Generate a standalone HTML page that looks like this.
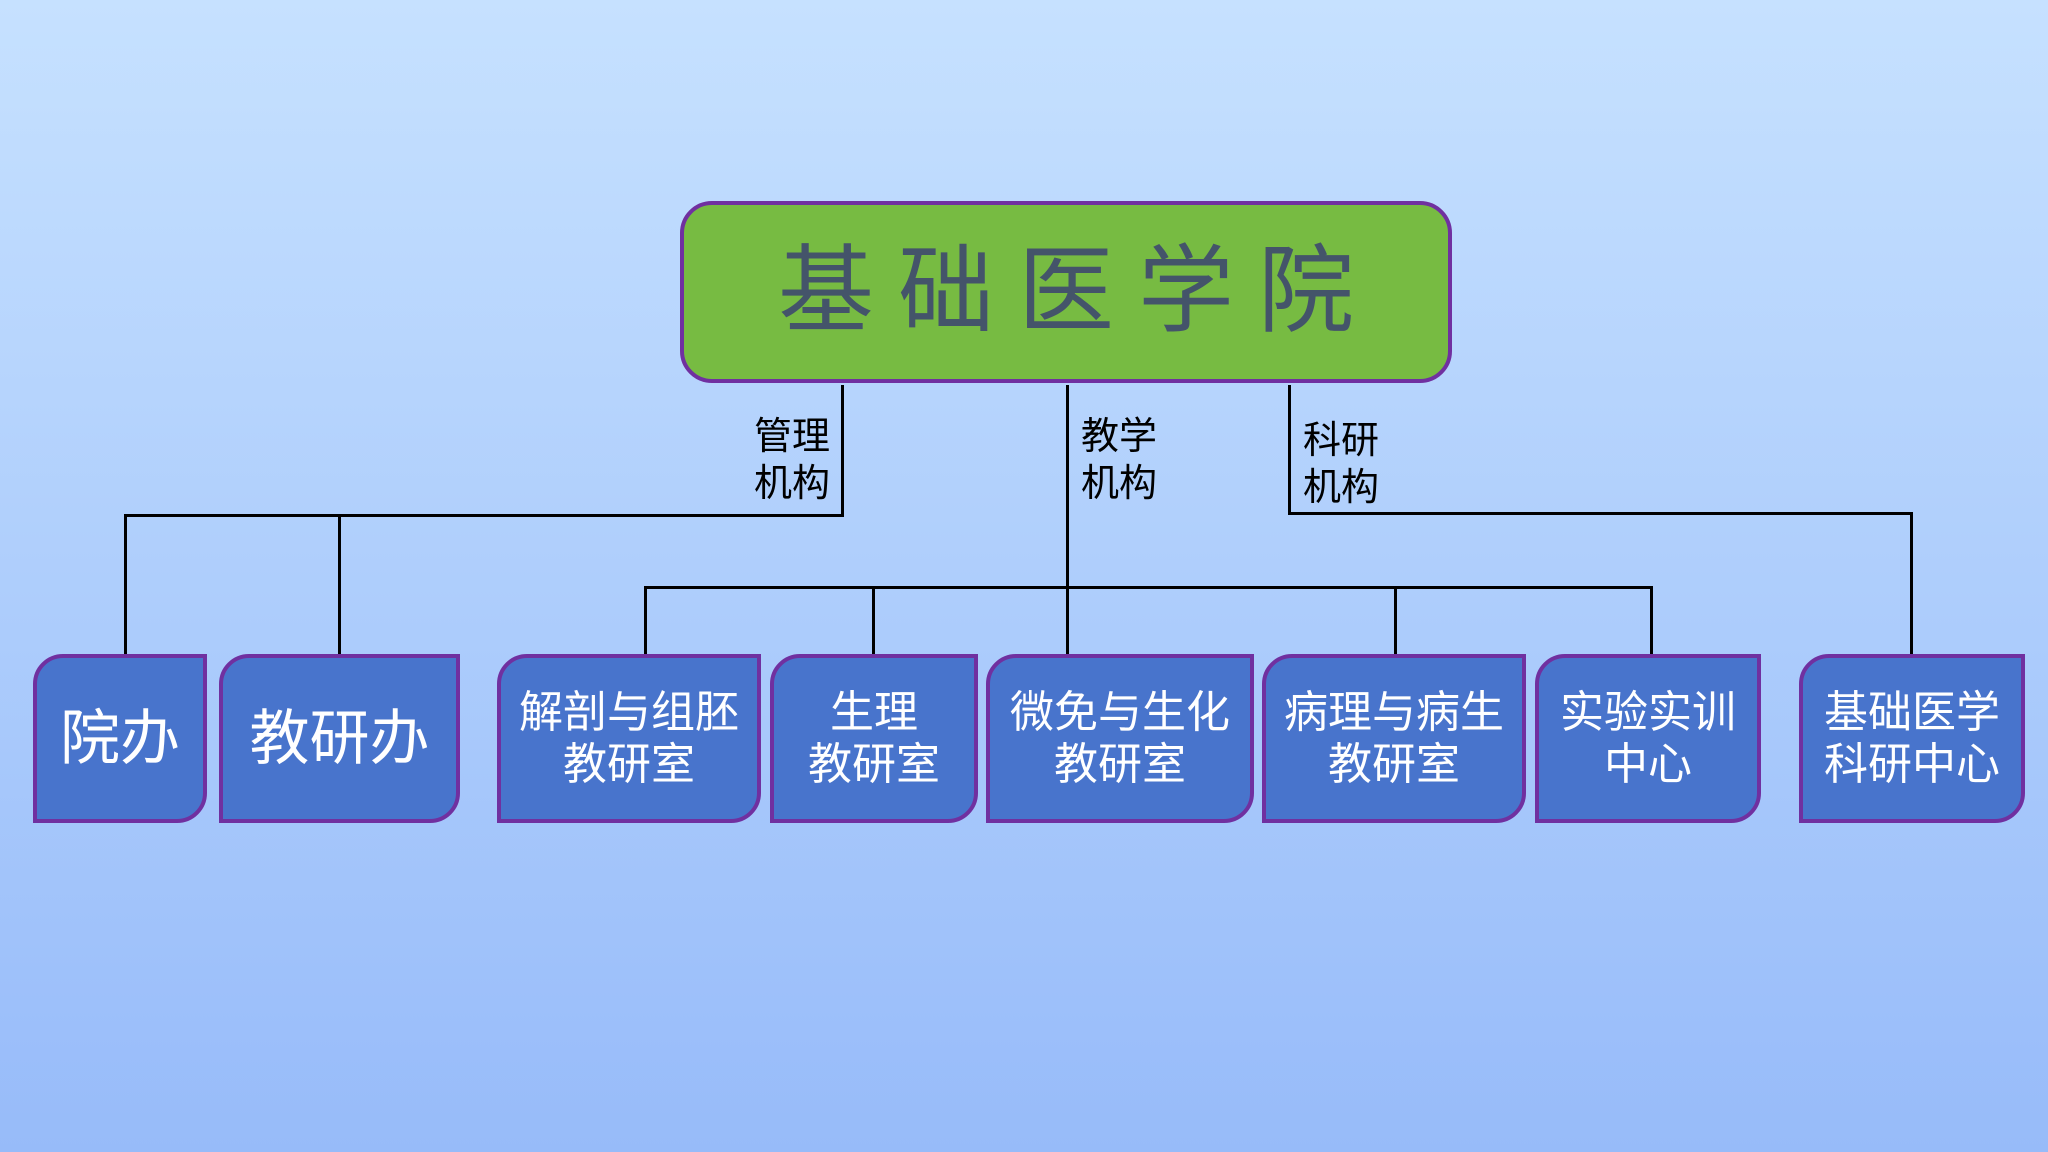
<!DOCTYPE html>
<html><head><meta charset="utf-8"><style>
html,body{margin:0;padding:0}
body{width:2048px;height:1152px;position:relative;overflow:hidden;background:linear-gradient(#c6e1ff,#97bbf9);font-family:"Liberation Sans","Noto Sans CJK SC",sans-serif}
.main{position:absolute;left:680px;top:201px;width:772px;height:182px;box-sizing:border-box;background:#77bb42;border:4px solid #7030a0;border-radius:32px;color:#44546a;font-size:96px;line-height:174px;text-align:center;letter-spacing:24px;text-indent:24px}
.b{position:absolute;top:654px;height:169px;box-sizing:border-box;background:#4874cc;border:4px solid #7030a0;border-radius:30px 0 30px 0;color:#fff;font-size:44px;line-height:52px;display:flex;align-items:center;justify-content:center;text-align:center}
.l{position:absolute;background:#000}
.t{position:absolute;font-size:38px;line-height:47px;color:#000}
</style></head><body>
<div class="main">基础医学院</div>
<!-- lines -->
<div class="l" style="left:841px;top:385px;width:3px;height:132px"></div>
<div class="l" style="left:124px;top:514px;width:720px;height:3px"></div>
<div class="l" style="left:124px;top:514px;width:3px;height:140px"></div>
<div class="l" style="left:338px;top:514px;width:3px;height:140px"></div>
<div class="l" style="left:1066px;top:385px;width:3px;height:269px"></div>
<div class="l" style="left:644px;top:586px;width:1009px;height:3px"></div>
<div class="l" style="left:644px;top:586px;width:3px;height:68px"></div>
<div class="l" style="left:872px;top:586px;width:3px;height:68px"></div>
<div class="l" style="left:1394px;top:586px;width:3px;height:68px"></div>
<div class="l" style="left:1650px;top:586px;width:3px;height:68px"></div>
<div class="l" style="left:1288px;top:385px;width:3px;height:129px"></div>
<div class="l" style="left:1288px;top:512px;width:625px;height:3px"></div>
<div class="l" style="left:1910px;top:512px;width:3px;height:142px"></div>
<div class="t" style="left:750px;top:414px;width:80px;text-align:right">管理<br>机构</div>
<div class="t" style="left:1081px;top:414px">教学<br>机构</div>
<div class="t" style="left:1303px;top:418px">科研<br>机构</div>
<div class="b" style="left:33px;width:174px;font-size:60px">院办</div>
<div class="b" style="left:219px;width:241px;font-size:60px">教研办</div>
<div class="b" style="left:497px;width:264px">解剖与组胚<br>教研室</div>
<div class="b" style="left:770px;width:208px">生理<br>教研室</div>
<div class="b" style="left:986px;width:268px">微免与生化<br>教研室</div>
<div class="b" style="left:1262px;width:264px">病理与病生<br>教研室</div>
<div class="b" style="left:1535px;width:226px">实验实训<br>中心</div>
<div class="b" style="left:1799px;width:226px">基础医学<br>科研中心</div>
</body></html>
